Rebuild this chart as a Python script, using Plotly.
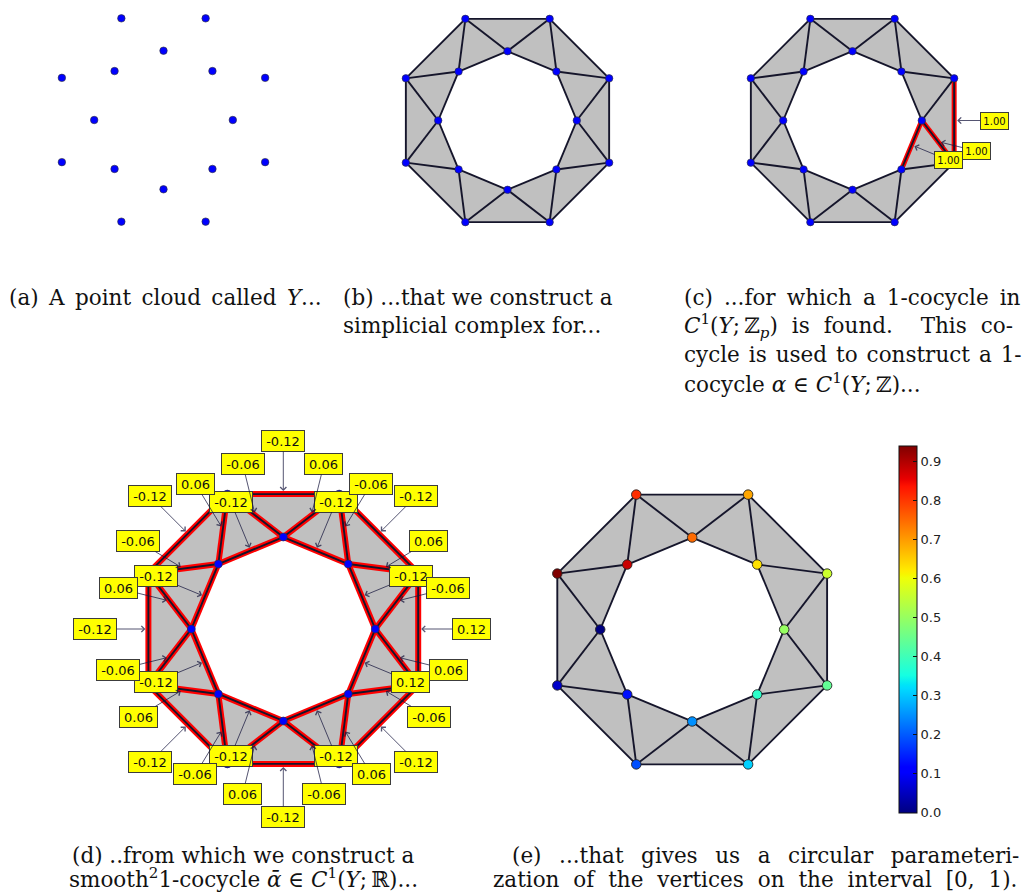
import plotly.graph_objects as go

W, H = 1022, 894

# ---------------------------------------------------------------- data
# Point cloud Y: inner octagon (indices 0-7), outer octagon (indices 8-15)
pt_x = [0.63, 0.445, 0.0, -0.445, -0.63, -0.445, 0.0, 0.445,
        0.924, 0.383, -0.383, -0.924, -0.924, -0.383, 0.383, 0.924]
pt_y = [0.0, 0.445, 0.63, 0.445, 0.0, -0.445, -0.63, -0.445,
        0.383, 0.924, 0.924, 0.383, -0.383, -0.924, -0.924, -0.383]

# 1-simplices of the complex
inner_ring = [(0, 1), (1, 2), (2, 3), (3, 4), (4, 5), (5, 6), (6, 7), (7, 0)]
outer_ring = [(8, 9), (9, 10), (10, 11), (11, 12), (12, 13), (13, 14), (14, 15), (15, 8)]
spokes = [(8, 0), (8, 1), (9, 1), (9, 2), (10, 2), (10, 3), (11, 3), (11, 4),
          (12, 4), (12, 5), (13, 5), (13, 6), (14, 6), (14, 7), (15, 7), (15, 0)]
edges = inner_ring + outer_ring + spokes

# 2-simplices
triangles = [(8, 0, 1), (8, 9, 1), (9, 1, 2), (9, 10, 2), (10, 2, 3), (10, 11, 3),
             (11, 3, 4), (11, 12, 4), (12, 4, 5), (12, 13, 5), (13, 5, 6), (13, 14, 6),
             (14, 6, 7), (14, 15, 7), (15, 7, 0), (15, 8, 0)]

# integer cocycle alpha (nonzero edges only)
alpha_edges = [(15, 8), (15, 0), (7, 0)]
alpha_vals = [1.00, 1.00, 1.00]

# smoothed real cocycle, one value per edge in `edges`
inner_ring_vals = [-0.12, -0.12, -0.12, -0.12, -0.12, -0.12, -0.12, 0.12]
outer_ring_vals = [-0.12, -0.12, -0.12, -0.12, -0.12, -0.12, -0.12, 0.12]
spoke_vals = [-0.06, 0.06, -0.06, 0.06, -0.06, 0.06, -0.06, 0.06,
              -0.06, 0.06, -0.06, 0.06, -0.06, 0.06, -0.06, 0.06]
alpha_bar_vals = inner_ring_vals + outer_ring_vals + spoke_vals

# circular coordinate of each vertex
theta = [0.50, 0.63, 0.75, 0.88, 0.00, 0.13, 0.25, 0.38,
         0.56, 0.69, 0.81, 0.94, 0.06, 0.19, 0.31, 0.44]
cbar_ticks = [0.0, 0.1, 0.2, 0.3, 0.4, 0.5, 0.6, 0.7, 0.8, 0.9]

# ---------------------------------------------------------------- style
GRAY = "#c0c0c0"
EDGE = "#15152b"
RED = "#ff0000"
BLUE = "#0000ff"
LABEL_OFF = 0.363
ARROW = "rgba(20,20,60,0.72)"

# matplotlib 'jet' segment data -> plotly colorscale
_jet = {
    "r": [(0, 0), (0.35, 0), (0.66, 1), (0.89, 1), (1, 0.5)],
    "g": [(0, 0), (0.125, 0), (0.375, 1), (0.64, 1), (0.91, 0), (1, 0)],
    "b": [(0, 0.5), (0.11, 1), (0.34, 1), (0.65, 0), (1, 0)],
}


def _interp(segs, t):
    for (t0, v0), (t1, v1) in zip(segs, segs[1:]):
        if t0 <= t <= t1:
            return v0 + (v1 - v0) * (t - t0) / (t1 - t0)
    return segs[-1][1]


_stops = sorted({t for segs in _jet.values() for t, _ in segs})
JET = [[t, "rgb(%d,%d,%d)" % tuple(round(255 * _interp(_jet[c], t)) for c in "rgb")]
       for t in _stops]

fig = go.Figure()
layout = dict(width=W, height=H, margin=dict(l=0, r=0, t=0, b=0),
              paper_bgcolor="white", plot_bgcolor="white", showlegend=False)


def add_panel(n, x0, x1, y0, y1, cx, cy, s):
    """Axis pair n placed on pixel box [x0,x1]x[y0,y1], origin at (cx,cy), s px/unit."""
    xa = "xaxis" if n == 1 else f"xaxis{n}"
    ya = "yaxis" if n == 1 else f"yaxis{n}"
    xr = "x" if n == 1 else f"x{n}"
    yr = "y" if n == 1 else f"y{n}"
    layout[xa] = dict(domain=[x0 / W, x1 / W], range=[(x0 - cx) / s, (x1 - cx) / s],
                      visible=False, anchor=yr, fixedrange=True)
    layout[ya] = dict(domain=[1 - y1 / H, 1 - y0 / H], range=[(cy - y1) / s, (cy - y0) / s],
                      visible=False, anchor=xr, fixedrange=True)
    return xr, yr


def seg_xy(edge_list):
    xs, ys = [], []
    for a, b in edge_list:
        xs += [pt_x[a], pt_x[b], None]
        ys += [pt_y[a], pt_y[b], None]
    return xs, ys


def tri_xy():
    xs, ys = [], []
    for a, b, c in triangles:
        xs += [pt_x[a], pt_x[b], pt_x[c], pt_x[a], None]
        ys += [pt_y[a], pt_y[b], pt_y[c], pt_y[a], None]
    return xs, ys


def complex_traces(xr, yr, red_edges=None, red_w=5.5):
    tx, ty = tri_xy()
    fig.add_trace(go.Scatter(x=tx, y=ty, mode="lines", fill="toself", fillcolor=GRAY,
                             line=dict(width=0, color=GRAY), hoverinfo="skip",
                             xaxis=xr, yaxis=yr))
    if red_edges:
        rx, ry = seg_xy(red_edges)
        fig.add_trace(go.Scatter(x=rx, y=ry, mode="lines", line=dict(color=RED, width=red_w),
                                 hoverinfo="skip", xaxis=xr, yaxis=yr))
    ex, ey = seg_xy(edges)
    fig.add_trace(go.Scatter(x=ex, y=ey, mode="lines", line=dict(color=EDGE, width=1.9),
                             hoverinfo="skip", xaxis=xr, yaxis=yr))


def blue_points(xr, yr, size=7.5):
    fig.add_trace(go.Scatter(x=pt_x, y=pt_y, mode="markers",
                             marker=dict(color=BLUE, size=size, line=dict(color="#333", width=0.6)),
                             xaxis=xr, yaxis=yr))


annotations = []


def edge_labels(xr, yr, edge_list, vals, fsize, w4, w5, h, pad):
    for (a, b), v in zip(edge_list, vals):
        mx = (pt_x[a] + pt_x[b]) / 2
        my = (pt_y[a] + pt_y[b]) / 2
        d = (mx * mx + my * my) ** 0.5
        txt = f"{v:.2f}"
        annotations.append(dict(
            x=mx, y=my, ax=mx + LABEL_OFF * mx / d, ay=my + LABEL_OFF * my / d,
            xref=xr, yref=yr, axref=xr, ayref=yr, text=txt, showarrow=True,
            arrowhead=4, arrowsize=1.2, arrowwidth=1, arrowcolor=ARROW, standoff=3,
            bgcolor="#ffff00", bordercolor="#3c3c3c", borderwidth=1, borderpad=pad,
            width=w5 if len(txt) == 5 else w4, height=h,
            font=dict(family="DejaVu Sans", size=fsize, color="#111")))


# (a) point cloud
xr, yr = add_panel(1, 0, 330, 0, 240, 163.5, 120.0, 110)
blue_points(xr, yr)

# (b) simplicial complex
xr, yr = add_panel(2, 335, 678, 0, 240, 507.5, 120.5, 110)
complex_traces(xr, yr)
blue_points(xr, yr)

# (c) integer cocycle
xr, yr = add_panel(3, 680, 1022, 0, 240, 852.5, 120.5, 110)
complex_traces(xr, yr, red_edges=alpha_edges, red_w=5)
blue_points(xr, yr)
edge_labels(xr, yr, alpha_edges, alpha_vals, 10, 23, 27, 12, 2)

# (d) smoothed real cocycle
xr, yr = add_panel(4, 0, 492, 420, 832, 283.3, 629.0, 146)
complex_traces(xr, yr, red_edges=edges, red_w=6)
blue_points(xr, yr, size=8)
edge_labels(xr, yr, edges, alpha_bar_vals, 13, 33, 38, 16, 2)

# (e) circular coordinates
xr, yr = add_panel(5, 495, 890, 420, 832, 692.2, 629.5, 146)
complex_traces(xr, yr)
fig.add_trace(go.Scatter(
    x=pt_x, y=pt_y, mode="markers", xaxis=xr, yaxis=yr,
    marker=dict(color=theta, colorscale=JET, cmin=min(theta), cmax=max(theta), size=9.5,
                line=dict(color="#222", width=0.9),
                colorbar=dict(x=899 / W, xanchor="left", y=1 - 629.4 / H, yanchor="middle",
                              lenmode="pixels", len=367, thicknessmode="pixels", thickness=18,
                              outlinewidth=1, outlinecolor="#111", xpad=0, ypad=0,
                              tickvals=cbar_ticks, tickformat=".1f", ticks="inside",
                              ticklen=4, tickcolor="#111",
                              tickfont=dict(family="DejaVu Sans", size=13, color="#222")))))

# ---------------------------------------------------------------- captions
CAP = dict(family="DejaVu Serif", size=21.5, color="#111")

# extra inter-word space used to stretch justified caption lines
SP = {0: " ", 1: " \u200a", 2: " \u2006", 3: " \u2009", 4: " \u2005", 5: " \u2004",
      6: " \u2004\u200a", 7: " \u2002"}


def spread(text, level):
    return text.replace(" ", SP[level]) if level else text


captions = [
    (8, 298, "left", "middle", 2, "(a) A point cloud called <i>Y</i>..."),
    (342, 298, "left", "middle", 0, "(b) ...that we construct a"),
    (342, 326, "left", "middle", 0, "simplicial complex for..."),
    (683, 298, "left", "middle", 3, "(c) ...for which a 1-cocycle in"),
    (683, 326, "left", "middle", 5,
     "<i>C</i><sup>1</sup>(<i>Y</i>;\u2009ℤ<sub><i>p</i></sub>) is found.  This co-"),
    (683, 354, "left", "middle", 1, "cycle is used to construct a 1-"),
    (683, 383, "left", "middle", 0,
     "cocycle <i>α</i> ∈ <i>C</i><sup>1</sup>(<i>Y</i>;\u2009ℤ)..."),
    (243, 855, "center", "middle", 0, "(d) ..from which we construct a"),
    (243, 893, "center", "bottom", 0,
     "smooth<sup>2</sup>1-cocycle <i>ᾱ</i> ∈ <i>C</i><sup>1</sup>(<i>Y</i>;\u2009ℝ)..."),
    (765, 855, "center", "middle", 7, "(e) ...that gives us a circular parameteri-"),
    (755, 893, "center", "bottom", 5, "zation of the vertices on the interval [0, 1)."),
]
for px, py, xanc, yanc, lvl, txt in captions:
    annotations.append(dict(x=px / W, y=1 - py / H, xref="paper", yref="paper",
                            xanchor=xanc, yanchor=yanc, showarrow=False, borderpad=0,
                            text=spread(txt, lvl), font=CAP))

layout["annotations"] = annotations
fig.update_layout(**layout)
fig.write_html("out.html")
